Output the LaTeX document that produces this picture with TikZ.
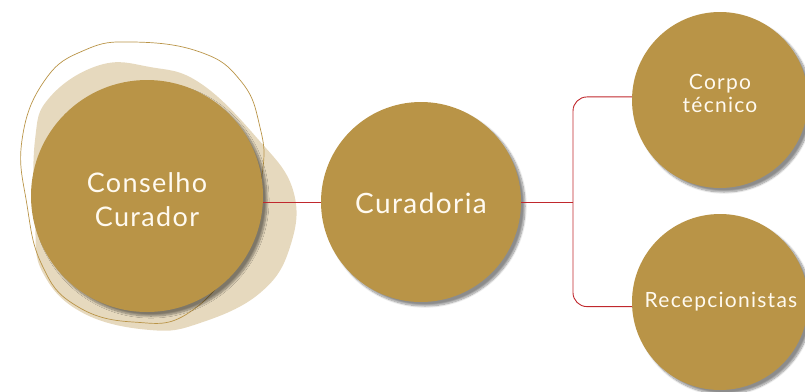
\documentclass[tikz,border=0pt]{standalone}
\usepackage{fontspec}
\setmainfont{Lato}
\newfontfamily\wideA[LetterSpace=5]{Lato}
\newfontfamily\wideB[LetterSpace=6]{Lato}
\usetikzlibrary{shadows.blur}
\definecolor{gold}{RGB}{185,148,71}
\definecolor{beige}{RGB}{230,217,190}
\definecolor{linered}{RGB}{192,40,45}
\definecolor{txt}{RGB}{255,250,240}
\tikzset{
  bubble/.style={circle, fill=gold, draw=none, text=txt, align=center, inner sep=0pt,
    blur shadow={shadow xshift=4pt, shadow yshift=-4pt, shadow blur steps=10, shadow opacity=45}},
  lbl/.style={text=txt, align=center, inner sep=0pt},
  link/.style={draw=linered, line width=0.9pt},
}
\begin{document}
\begin{tikzpicture}[x=1pt,y=-1pt]
\useasboundingbox (0,0) rectangle (805,391);
% beige blob
\fill[beige] plot[smooth cycle, tension=0.7] coordinates {
 (100,65) (150,67) (200,83) (257,138) (293,190) (290,247) (260,293)
 (200,323) (150,330) (83,313) (43,273) (35,223) (35,140) (50,97)};
% outline blob
\draw[gold, line width=0.7pt] plot[smooth cycle, tension=0.75] coordinates {
 (133,42) (200,52) (240,80) (259,123) (262,175) (240,250) (190,312)
 (133,322) (75,305) (42,265) (27,205) (22,140) (45,80) (85,50)};
% nodes
\node[bubble, minimum size=232pt] (cc) at (147,196) {};
\node[lbl, font=\wideA\fontsize{27}{34}\selectfont] (cc-t) at (147,200) {Conselho\\Curador};
\node[bubble, minimum size=200pt] (cur) at (421,202) {};
\node[lbl, font=\wideA\fontsize{28}{32}\selectfont] (cur-t) at (421,203) {Curadoria};
\node[bubble, minimum size=176pt] (corpo) at (720,100) {};
\node[lbl, font=\wideB\fontsize{21}{23}\selectfont] (corpo-t) at (720,93) {Corpo\\técnico};
\node[bubble, minimum size=176pt] (rec) at (720,302) {};
\node[lbl, font=\wideB\fontsize{21}{23}\selectfont] (rec-t) at (721,302) {Recepcionistas};
\coordinate (split) at (573,202);
% connectors
\draw[link] (cc.east |- cur.west) -- (cur.west);
\draw[link] (cur.east) -- (split);
\draw[link, rounded corners=14pt] (split) |- (corpo.178);
\draw[link, rounded corners=14pt] (split) |- (rec.183);
\end{tikzpicture}
\end{document}
